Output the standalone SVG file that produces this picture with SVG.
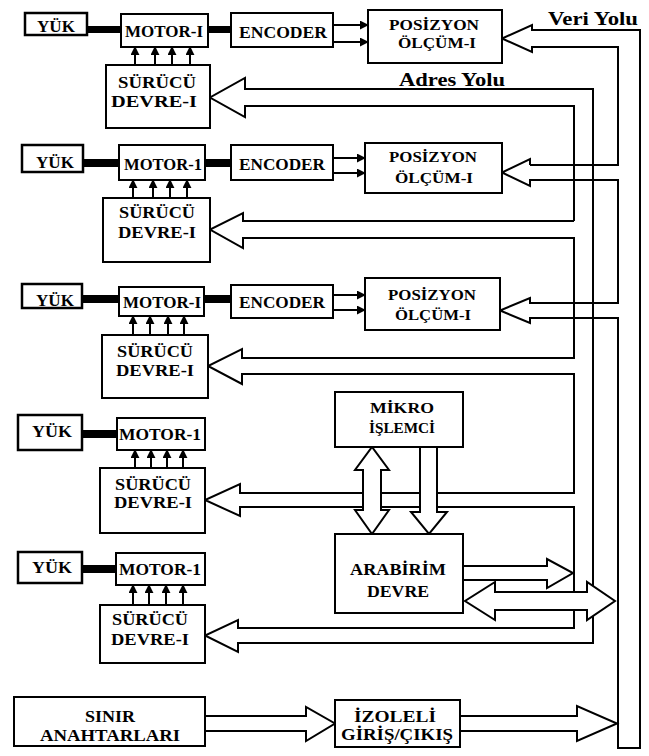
<svg xmlns="http://www.w3.org/2000/svg" width="649" height="756" viewBox="0 0 649 756">
<style>
.box{fill:#fff;stroke:#000;stroke-width:2}
.bx{fill:#fff;stroke:#000;stroke-width:2.5}
.shaft{fill:#000}
.w{fill:none;stroke:#000;stroke-width:2;stroke-linejoin:miter}
.hw{fill:#fff;stroke:#000;stroke-width:2;stroke-linejoin:miter}
.sa{stroke:#000;stroke-width:2;fill:none}
text{font-family:"Liberation Serif","Times New Roman",serif;font-weight:bold;text-anchor:middle;fill:#000}
.t{font-size:16px}
.s{font-size:14px}
.l{font-size:18px}
.a{font-size:16px;font-weight:900}
</style>
<defs>
<marker id="ah" viewBox="0 0 10 10" refX="9" refY="5" markerWidth="9" markerHeight="9" markerUnits="userSpaceOnUse" orient="auto"><path d="M0,0 L10,5 L0,10 Z" fill="#000"/></marker>
</defs>

<g id="connectors">
<!-- veri yolu -->
<path class="w" d="M530,165 H618 V47 H532 V52 L502,38.5 L532,25 V30 H640 V748 H618 V318 H530 V323 L500,310.5 L530,298 V303 H618 V180 H530 V186 L502,172.5 L530,159 V165"/>
<!-- adres yolu -->
<path class="w" d="M574,221 V106 H245 V117 L210,97.5 L245,78 V89 H593 V643 H238 V652 L205,635.5 L238,620 V628 H574 V507 H240 V516 L205,500 L240,484 V493 H574 V374 H242 V384 L208,366 L242,349 V358 H574 V238 H243 V248 L210,229.5 L243,213 V221 H574"/>
<!-- motor shafts -->
<rect class="shaft" x="87" y="26" width="34" height="7"/>
<rect class="shaft" x="207" y="26" width="24" height="7"/>
<rect class="shaft" x="82" y="159" width="37" height="8"/>
<rect class="shaft" x="204" y="159" width="27" height="8"/>
<rect class="shaft" x="81" y="295" width="38" height="8"/>
<rect class="shaft" x="203" y="295" width="28" height="8"/>
<rect class="shaft" x="81" y="430" width="36" height="8"/>
<rect class="shaft" x="81" y="565" width="35" height="8"/>
<!-- encoder to posizyon -->
<line class="sa" x1="333" y1="25" x2="368" y2="25" marker-end="url(#ah)"/>
<line class="sa" x1="333" y1="42" x2="368" y2="42" marker-end="url(#ah)"/>
<line class="sa" x1="333" y1="158" x2="365" y2="158" marker-end="url(#ah)"/>
<line class="sa" x1="333" y1="173" x2="365" y2="173" marker-end="url(#ah)"/>
<line class="sa" x1="333" y1="295" x2="365" y2="295" marker-end="url(#ah)"/>
<line class="sa" x1="333" y1="310" x2="365" y2="310" marker-end="url(#ah)"/>
<!-- surucu to motor -->
<line class="sa" x1="135" y1="65" x2="135" y2="47" marker-end="url(#ah)"/>
<line class="sa" x1="155" y1="65" x2="155" y2="47" marker-end="url(#ah)"/>
<line class="sa" x1="172" y1="65" x2="172" y2="47" marker-end="url(#ah)"/>
<line class="sa" x1="190" y1="65" x2="190" y2="47" marker-end="url(#ah)"/>
<line class="sa" x1="133" y1="198" x2="133" y2="180" marker-end="url(#ah)"/>
<line class="sa" x1="153" y1="198" x2="153" y2="180" marker-end="url(#ah)"/>
<line class="sa" x1="170" y1="198" x2="170" y2="180" marker-end="url(#ah)"/>
<line class="sa" x1="187" y1="198" x2="187" y2="180" marker-end="url(#ah)"/>
<line class="sa" x1="133" y1="335" x2="133" y2="316" marker-end="url(#ah)"/>
<line class="sa" x1="150" y1="335" x2="150" y2="316" marker-end="url(#ah)"/>
<line class="sa" x1="168" y1="335" x2="168" y2="316" marker-end="url(#ah)"/>
<line class="sa" x1="184" y1="335" x2="184" y2="316" marker-end="url(#ah)"/>
<line class="sa" x1="135" y1="468" x2="135" y2="450" marker-end="url(#ah)"/>
<line class="sa" x1="151" y1="468" x2="151" y2="450" marker-end="url(#ah)"/>
<line class="sa" x1="167" y1="468" x2="167" y2="450" marker-end="url(#ah)"/>
<line class="sa" x1="183" y1="468" x2="183" y2="450" marker-end="url(#ah)"/>
<line class="sa" x1="133" y1="605" x2="133" y2="585" marker-end="url(#ah)"/>
<line class="sa" x1="149" y1="605" x2="149" y2="585" marker-end="url(#ah)"/>
<line class="sa" x1="166" y1="605" x2="166" y2="585" marker-end="url(#ah)"/>
<line class="sa" x1="183" y1="605" x2="183" y2="585" marker-end="url(#ah)"/>
<!-- mikro <-> arabirim -->
<path class="hw" d="M363,470 H355 L372,447 L389,470 H381 V510 H389 L372,534 L355,510 H363 Z"/>
<path class="hw" d="M420,447 V512 H411 L429,534 L447,512 H437 V447 Z"/>
<!-- arabirim outputs -->
<path class="hw" d="M463,566 H547 V559 L573,573 L547,588 V580 H463"/>
<path class="hw" d="M495,592 H587 V582 L615,601 L587,620 V610 H495 V620 L465,601 L495,582 Z"/>
<!-- bottom -->
<path class="w" d="M205,716 H306 V707 L335,723.5 L306,741 V731 H205"/>
<path class="w" d="M460,716 H577 V706 L617,723.5 L577,741 V731 H460"/>
</g>

<g id="yuk1"><rect class="bx" x="25" y="13" width="62" height="22"/><text class="t" x="56" y="32" textLength="38" lengthAdjust="spacingAndGlyphs">YÜK</text></g>
<g id="motor1"><rect class="box" x="121" y="14" width="87" height="33"/><text class="t" x="164" y="37" textLength="78" lengthAdjust="spacingAndGlyphs">MOTOR-I</text></g>
<g id="encoder1"><rect class="box" x="231" y="13" width="102" height="34"/><text class="t" x="283" y="38" textLength="88" lengthAdjust="spacingAndGlyphs">ENCODER</text></g>
<g id="posizyon1"><rect class="box" x="368" y="10" width="134" height="53"/><text class="s" x="434" y="30" textLength="90" lengthAdjust="spacingAndGlyphs">POSİZYON</text><text class="s" x="437" y="48" textLength="78" lengthAdjust="spacingAndGlyphs">ÖLÇÜM-I</text></g>
<g id="surucu1"><rect class="box" x="106" y="65" width="104" height="63"/><text class="t" x="157" y="88" textLength="78" lengthAdjust="spacingAndGlyphs">SÜRÜCÜ</text><text class="t" x="154" y="107" textLength="86" lengthAdjust="spacingAndGlyphs">DEVRE-I</text></g>

<g id="yuk2"><rect class="bx" x="22" y="145" width="61" height="27"/><text class="t" x="55" y="168" textLength="38" lengthAdjust="spacingAndGlyphs">YÜK</text></g>
<g id="motor2"><rect class="box" x="119" y="145" width="86" height="35"/><text class="t" x="163" y="170" textLength="78" lengthAdjust="spacingAndGlyphs">MOTOR-1</text></g>
<g id="encoder2"><rect class="box" x="231" y="145" width="102" height="35"/><text class="t" x="282" y="170" textLength="86" lengthAdjust="spacingAndGlyphs">ENCODER</text></g>
<g id="posizyon2"><rect class="box" x="365" y="143" width="137" height="50"/><text class="s" x="433" y="162" textLength="88" lengthAdjust="spacingAndGlyphs">POSİZYON</text><text class="s" x="434" y="183" textLength="78" lengthAdjust="spacingAndGlyphs">ÖLÇÜM-I</text></g>
<g id="surucu2"><rect class="box" x="103" y="198" width="107" height="64"/><text class="t" x="157" y="218" textLength="76" lengthAdjust="spacingAndGlyphs">SÜRÜCÜ</text><text class="t" x="157" y="238" textLength="78" lengthAdjust="spacingAndGlyphs">DEVRE-I</text></g>

<g id="yuk3"><rect class="bx" x="22" y="284" width="60" height="24"/><text class="t" x="55" y="306" textLength="38" lengthAdjust="spacingAndGlyphs">YÜK</text></g>
<g id="motor3"><rect class="box" x="119" y="287" width="85" height="29"/><text class="t" x="162" y="308" textLength="78" lengthAdjust="spacingAndGlyphs">MOTOR-I</text></g>
<g id="encoder3"><rect class="box" x="231" y="285" width="102" height="33"/><text class="t" x="282" y="308" textLength="86" lengthAdjust="spacingAndGlyphs">ENCODER</text></g>
<g id="posizyon3"><rect class="box" x="365" y="278" width="135" height="52"/><text class="s" x="432" y="300" textLength="88" lengthAdjust="spacingAndGlyphs">POSİZYON</text><text class="s" x="433" y="320" textLength="76" lengthAdjust="spacingAndGlyphs">ÖLÇÜM-I</text></g>
<g id="surucu3"><rect class="box" x="102" y="335" width="106" height="63"/><text class="t" x="155" y="357" textLength="76" lengthAdjust="spacingAndGlyphs">SÜRÜCÜ</text><text class="t" x="155" y="376" textLength="78" lengthAdjust="spacingAndGlyphs">DEVRE-I</text></g>

<g id="yuk4"><rect class="bx" x="18" y="415" width="64" height="35"/><text class="t" x="52" y="437" textLength="40" lengthAdjust="spacingAndGlyphs">YÜK</text></g>
<g id="motor4"><rect class="box" x="117" y="418" width="88" height="32"/><text class="t" x="160" y="440" textLength="82" lengthAdjust="spacingAndGlyphs">MOTOR-1</text></g>
<g id="surucu4"><rect class="box" x="100" y="468" width="105" height="65"/><text class="t" x="153" y="490" textLength="76" lengthAdjust="spacingAndGlyphs">SÜRÜCÜ</text><text class="t" x="153" y="508" textLength="78" lengthAdjust="spacingAndGlyphs">DEVRE-I</text></g>

<g id="yuk5"><rect class="bx" x="18" y="552" width="64" height="31"/><text class="t" x="52" y="573" textLength="40" lengthAdjust="spacingAndGlyphs">YÜK</text></g>
<g id="motor5"><rect class="box" x="116" y="553" width="89" height="32"/><text class="t" x="160" y="575" textLength="82" lengthAdjust="spacingAndGlyphs">MOTOR-1</text></g>
<g id="surucu5"><rect class="box" x="100" y="605" width="105" height="58"/><text class="t" x="150" y="625" textLength="76" lengthAdjust="spacingAndGlyphs">SÜRÜCÜ</text><text class="t" x="150" y="645" textLength="78" lengthAdjust="spacingAndGlyphs">DEVRE-I</text></g>

<g id="mikro"><rect class="box" x="335" y="392" width="128" height="55"/><text class="s" x="402" y="413" textLength="64" lengthAdjust="spacingAndGlyphs">MİKRO</text><text class="s" x="402" y="433" textLength="66" lengthAdjust="spacingAndGlyphs">İŞLEMCİ</text></g>
<g id="arabirim"><rect class="box" x="335" y="534" width="128" height="79"/><text class="a" x="398" y="575" textLength="96" lengthAdjust="spacingAndGlyphs">ARABİRİM</text><text class="a" x="398" y="597" textLength="62" lengthAdjust="spacingAndGlyphs">DEVRE</text></g>
<g id="sinir"><rect class="box" x="14" y="697" width="191" height="49"/><text class="t" x="110" y="722" textLength="50" lengthAdjust="spacingAndGlyphs">SINIR</text><text class="t" x="110" y="741" textLength="140" lengthAdjust="spacingAndGlyphs">ANAHTARLARI</text></g>
<g id="izoleli"><rect class="box" x="335" y="700" width="125" height="47"/><text class="t" x="395" y="722" textLength="82" lengthAdjust="spacingAndGlyphs">İZOLELİ</text><text class="t" x="397" y="740" textLength="112" lengthAdjust="spacingAndGlyphs">GİRİŞ/ÇIKIŞ</text></g>

<g id="labels"><text class="l" x="593" y="25" textLength="90" lengthAdjust="spacingAndGlyphs">Veri Yolu</text><text class="l" x="452" y="86" textLength="106" lengthAdjust="spacingAndGlyphs">Adres Yolu</text></g>
</svg>
